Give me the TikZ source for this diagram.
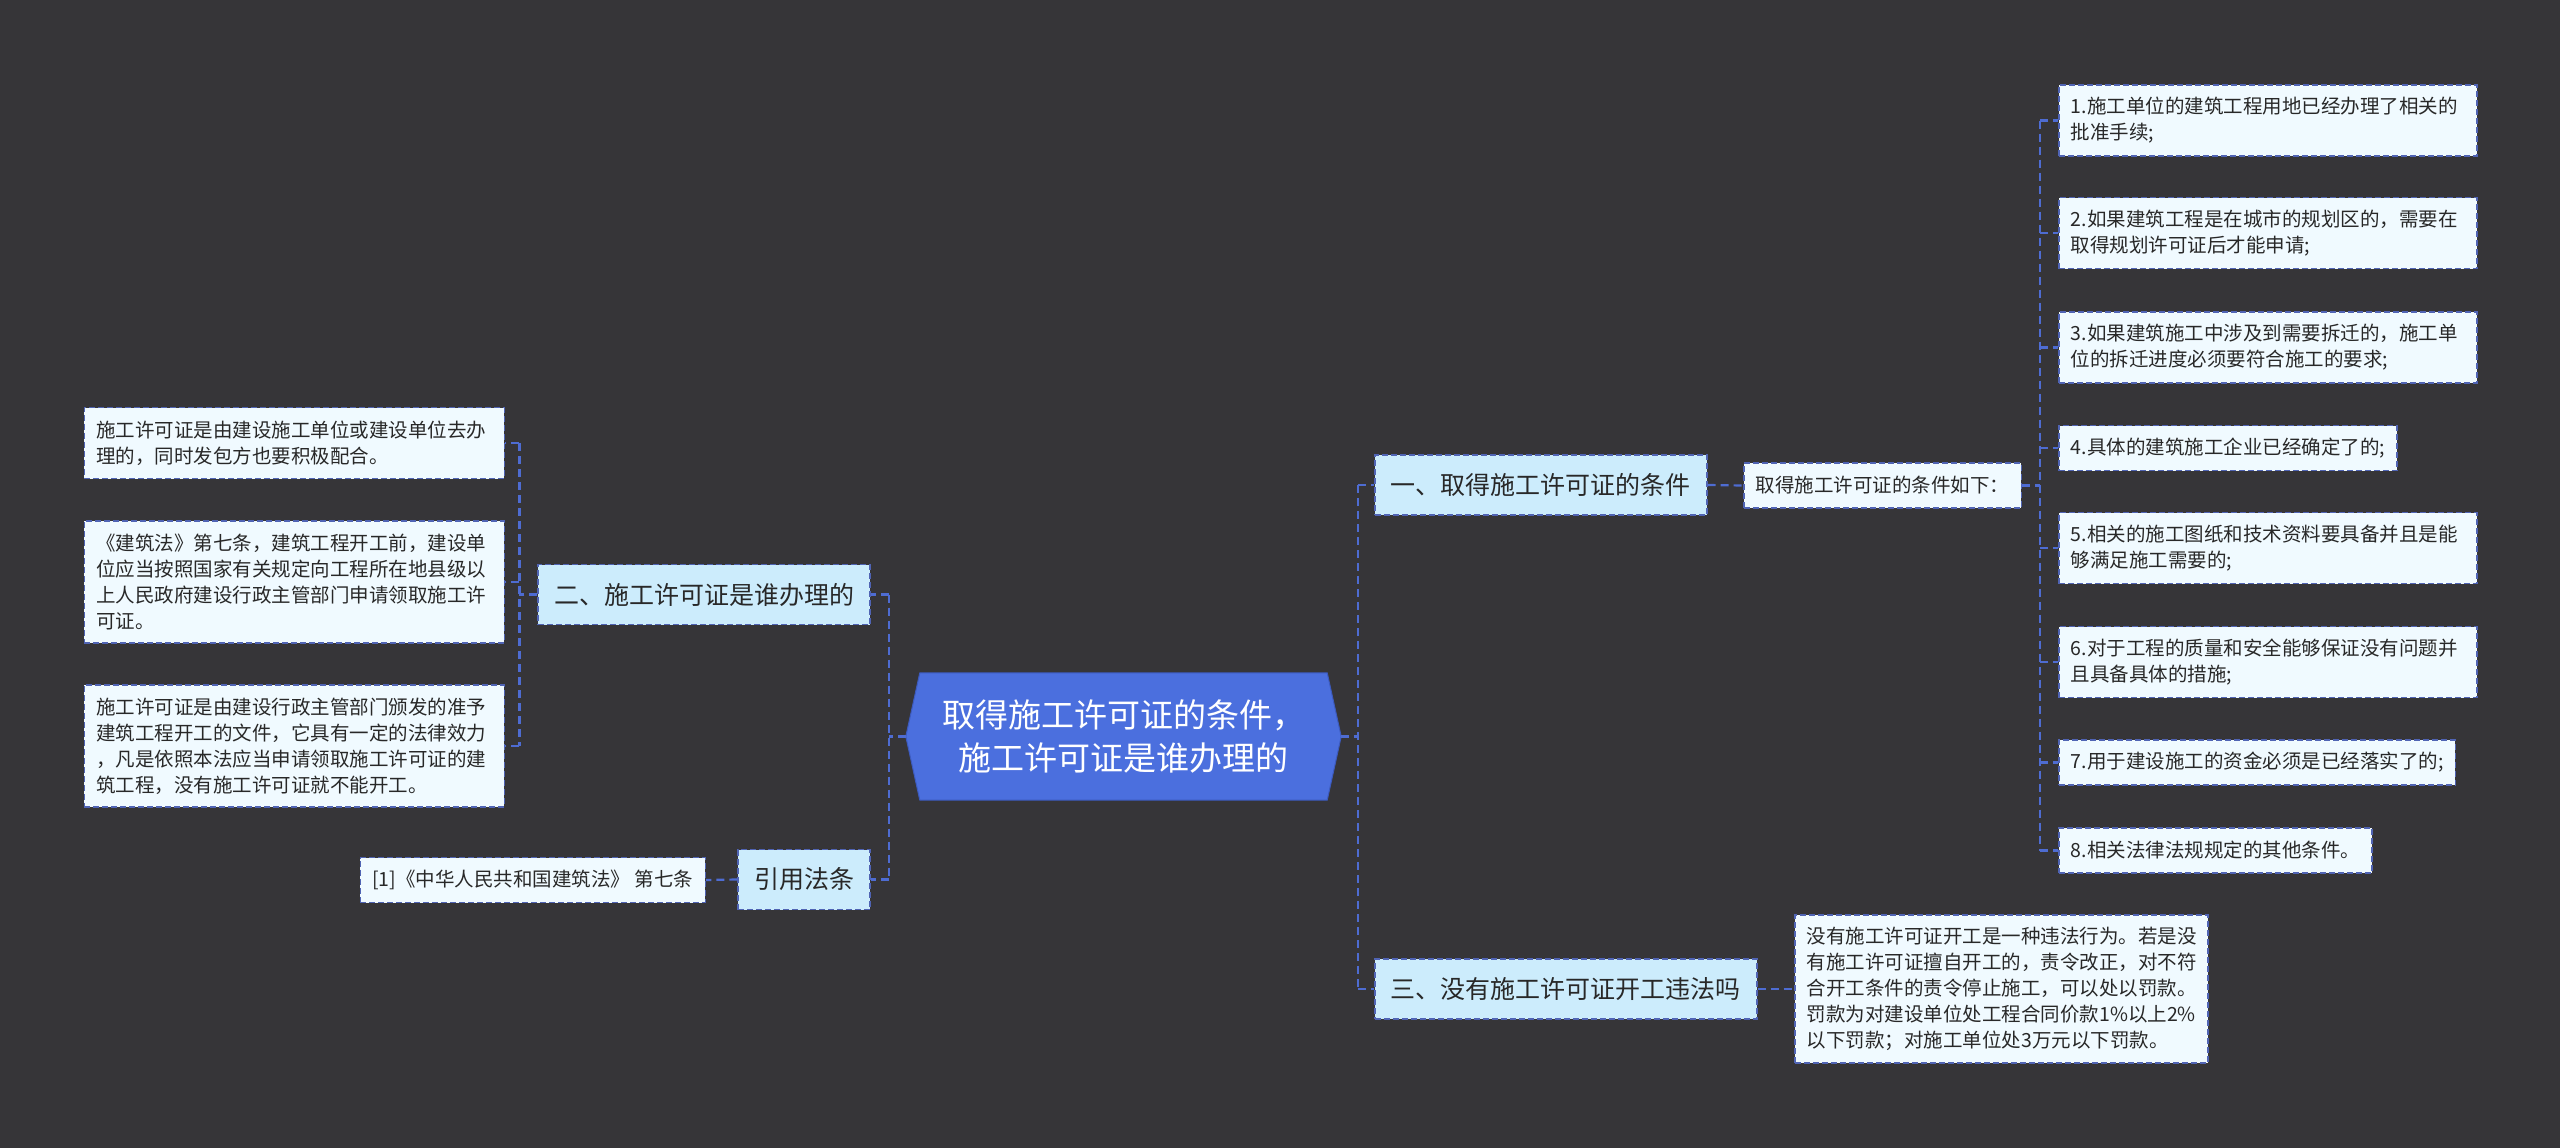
\documentclass[tikz,border=0pt]{standalone}
\usepackage{fontspec}
\setmainfont{Noto Sans CJK SC}
\usetikzlibrary{calc}
\definecolor{bg}{RGB}{54,53,56}
\definecolor{connc}{RGB}{78,108,210}
\definecolor{bordc}{RGB}{80,100,180}
\definecolor{lonefill}{RGB}{204,236,252}
\definecolor{leaffill}{RGB}{240,250,255}
\definecolor{cfill}{RGB}{75,111,222}
\definecolor{cbord}{RGB}{60,90,190}
\definecolor{txt}{RGB}{40,40,40}
\tikzset{
  conn/.style={draw=connc, line width=2.2pt, dash pattern=on 8pt off 5pt},
  lvone/.style={draw=bordc, fill=lonefill, line width=1.6pt, dash pattern=on 6pt off 3pt,
    minimum height=60pt, inner xsep=16pt, inner ysep=0pt, font=\fontsize{25}{30}\selectfont, text=txt},
  leaf/.style={draw=bordc, fill=leaffill, line width=1.5pt, dash pattern=on 6pt off 3pt,
    inner xsep=12pt, inner ysep=0pt, font=\fontsize{19.5}{26}\selectfont, text=txt, align=left},
  linesone/.style={minimum height=45pt},
  linestwo/.style={minimum height=71pt},
  linesfour/.style={minimum height=122pt},
  linesfive/.style={minimum height=148pt},
}
\begin{document}
\begin{tikzpicture}[x=1pt,y=-1pt]
\fill[bg] (0,0) rectangle (2560,1148);
\useasboundingbox (0,0) rectangle (2560,1148);

% central node
\path node[minimum width=407pt, minimum height=127pt, inner sep=0pt] (cbox) at (1123.5,736.5) {};
\coordinate (ce) at ($(cbox.east)+(14,0)$);
\coordinate (cw) at ($(cbox.west)+(-14,0)$);
\filldraw[fill=cfill, draw=cbord, line width=1pt] (cbox.north west) -- (cbox.north east) -- (ce) -- (cbox.south east) -- (cbox.south west) -- (cw) -- cycle;
\node[text=white, align=center, font=\fontsize{33}{43}\selectfont] (c) at (cbox) {取得施工许可证的条件，\\施工许可证是谁办理的};

% level one
\node[lvone, anchor=west] (n1) at (1374,485) {一、取得施工许可证的条件};
\node[lvone, anchor=west] (n3) at (1374,989) {三、没有施工许可证开工违法吗};
\node[lvone, anchor=east] (n2) at (871,594.5) {二、施工许可证是谁办理的};
\node[lvone, anchor=east] (n4) at (871,879.5) {引用法条};

% right branch one
\node[leaf, linesone, anchor=west] (ru) at (1743,485.5) {取得施工许可证的条件如下：};
\node[leaf, linestwo, text width=394pt, anchor=west] (i1) at (2058,120.5) {1.施工单位的建筑工程用地已经办理了相关的\\批准手续;};
\node[leaf, linestwo, text width=394pt, anchor=west] (i2) at (2058,233) {2.如果建筑工程是在城市的规划区的，需要在\\取得规划许可证后才能申请;};
\node[leaf, linestwo, text width=394pt, anchor=west] (i3) at (2058,347.5) {3.如果建筑施工中涉及到需要拆迁的，施工单\\位的拆迁进度必须要符合施工的要求;};
\node[leaf, linesone, anchor=west] (i4) at (2058,448) {4.具体的建筑施工企业已经确定了的;};
\node[leaf, linestwo, text width=394pt, anchor=west] (i5) at (2058,548) {5.相关的施工图纸和技术资料要具备并且是能\\够满足施工需要的;};
\node[leaf, linestwo, text width=394pt, anchor=west] (i6) at (2058,662) {6.对于工程的质量和安全能够保证没有问题并\\且具备具体的措施;};
\node[leaf, linesone, anchor=west] (i7) at (2058,762.5) {7.用于建设施工的资金必须是已经落实了的;};
\node[leaf, linesone, anchor=west] (i8) at (2058,850.5) {8.相关法律法规规定的其他条件。};

% right branch three
\node[leaf, linesfive, text width=389pt, anchor=west] (r3) at (1794,989) {没有施工许可证开工是一种违法行为。若是没\\有施工许可证擅自开工的，责令改正，对不符\\合开工条件的责令停止施工，可以处以罚款。\\罚款为对建设单位处工程合同价款1\%以上2\%\\以下罚款；对施工单位处3万元以下罚款。};

% left branch two
\node[leaf, linestwo, text width=396pt, anchor=east] (l1) at (505,443) {施工许可证是由建设施工单位或建设单位去办\\理的，同时发包方也要积极配合。};
\node[leaf, linesfour, text width=396pt, anchor=east] (l2) at (505,582) {《建筑法》第七条，建筑工程开工前，建设单\\位应当按照国家有关规定向工程所在地县级以\\上人民政府建设行政主管部门申请领取施工许\\可证。};
\node[leaf, linesfour, text width=396pt, anchor=east] (l3) at (505,746) {施工许可证是由建设行政主管部门颁发的准予\\建筑工程开工的文件，它具有一定的法律效力\\，凡是依照本法应当申请领取施工许可证的建\\筑工程，没有施工许可证就不能开工。};

% left branch four
\node[leaf, linesone, anchor=east] (cite) at (706,880) {[1]《中华人民共和国建筑法》 第七条};

% connectors: centre right
\coordinate (rtr) at ($(ce)+(17,0)$);
\draw[conn] (ce) -- (rtr);
\draw[conn] (n1.west -| rtr) -- (n3.west -| rtr);
\draw[conn] (n1.west -| rtr) -- (n1.west);
\draw[conn] (n3.west -| rtr) -- (n3.west);
% centre left
\coordinate (ltr) at ($(cw)+(-17,0)$);
\draw[conn] (cw) -- (ltr);
\draw[conn] (n2.east -| ltr) -- (n4.east -| ltr);
\draw[conn] (n2.east -| ltr) -- (n2.east);
\draw[conn] (n4.east -| ltr) -- (n4.east);
% n1 -> ru -> items
\draw[conn] (n1.east) -- (ru.west);
\coordinate (itr) at ($(ru.east)+(18,0)$);
\draw[conn] (i1.west -| itr) -- (i8.west -| itr);
\draw[conn] (ru.east) -- (itr);
\foreach \k in {1,...,8} { \draw[conn] (i\k.west -| itr) -- (i\k.west); }
% n3 -> r3
\draw[conn] (n3.east) -- (r3.west);
% n2 -> l boxes
\coordinate (ltrb) at ($(n2.west)+(-18,0)$);
\draw[conn] (n2.west) -- (ltrb);
\draw[conn] (l1.east -| ltrb) -- (l3.east -| ltrb);
\foreach \k in {1,2,3} { \draw[conn] (l\k.east -| ltrb) -- (l\k.east); }
% n4 -> cite
\draw[conn] (n4.west) -- (cite.east);
\end{tikzpicture}
\end{document}
